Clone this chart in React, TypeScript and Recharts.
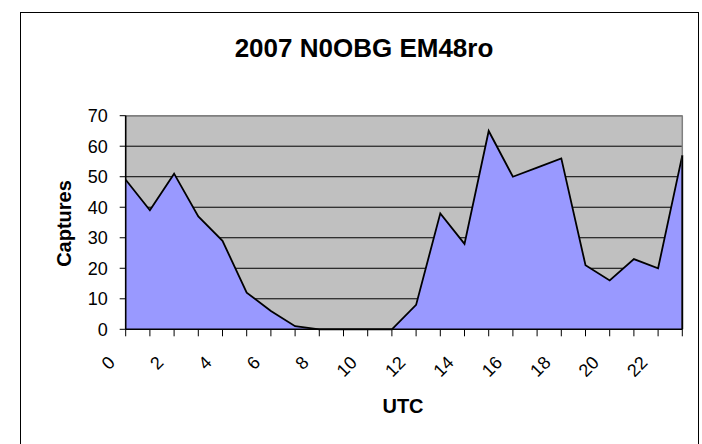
import React from 'react';
import { AreaChart, Area, XAxis, YAxis, CartesianGrid, ReferenceLine } from 'recharts';

// hour of day (UTC) and captures per hour
const hours = [0, 1, 2, 3, 4, 5, 6, 7, 8, 9, 10, 11, 12, 13, 14, 15, 16, 17, 18, 19, 20, 21, 22, 23];
const captures = [49, 39, 51, 37, 29, 12, 6, 1, 0, 0, 0, 0, 8, 38, 28, 65, 50, 53, 56, 21, 16, 23, 20, 57];
const yTicks = [0, 10, 20, 30, 40, 50, 60, 70];

const data = hours.map((h, i) => ({ hour: h, captures: captures[i] }));

const FONT = '"Liberation Sans", Arial, sans-serif';

const HourTick = (props: any) => {
  const { x, y, payload } = props;
  if (payload.value % 2 !== 0) return <g />;
  const ex = x - 14;
  const ey = y + 23;
  return (
    <text
      x={ex}
      y={ey}
      dy="0.35em"
      textAnchor="end"
      transform={`rotate(-45 ${ex} ${ey})`}
      fontSize={18}
      fontFamily={FONT}
      fill="#000"
    >
      {payload.value}
    </text>
  );
};

export default function App() {
  const last = hours[hours.length - 1];
  const lastVal = captures[captures.length - 1];
  return (
    <div style={{ position: 'absolute', left: 0, top: 0, width: 702, height: 444, background: '#fff', overflow: 'hidden' }}>
      <div style={{ position: 'absolute', left: 20, top: 12, width: 677, height: 450, border: '1px solid #000' }} />
      <AreaChart
        width={702}
        height={444}
        data={data}
        margin={{ top: 115.7, right: 19.7, bottom: 54.7, left: 65.7 }}
        style={{ position: 'absolute', left: 0, top: 0 }}
      >
        <CartesianGrid vertical={false} stroke="#000" strokeWidth={1} fill="#C0C0C0" fillOpacity={1} />
        <XAxis
          dataKey="hour"
          interval={0}
          height={60}
          tickSize={7}
          tickMargin={0}
          tick={<HourTick />}
          axisLine={{ stroke: '#000', strokeWidth: 1.6 }}
          tickLine={{ stroke: '#000', strokeWidth: 1 }}
        />
        <YAxis
          width={60}
          domain={[0, 70]}
          ticks={yTicks}
          interval={0}
          tickSize={6}
          tickMargin={12}
          tick={{ fontSize: 18, fontFamily: FONT, fill: '#000' }}
          axisLine={{ stroke: '#000', strokeWidth: 1.6 }}
          tickLine={{ stroke: '#000', strokeWidth: 1 }}
        />
        <ReferenceLine y={70} stroke="#808080" strokeWidth={1.5} />
        <ReferenceLine x={last} stroke="#808080" strokeWidth={1.5} />
        <Area
          type="linear"
          dataKey="captures"
          stroke="#000"
          strokeWidth={1.8}
          fill="#9999FF"
          fillOpacity={1}
          isAnimationActive={false}
          dot={false}
          activeDot={false}
        />
        <ReferenceLine
          segment={[{ x: last, y: lastVal }, { x: last, y: 0 }]}
          stroke="#000"
          strokeWidth={1.8}
        />
      </AreaChart>
      <svg width={702} height={444} style={{ position: 'absolute', left: 0, top: 0, pointerEvents: 'none' }}>
        <text x={364} y={57} textAnchor="middle" fontSize={26} fontWeight="bold" fontFamily={FONT} fill="#000">
          2007 N0OBG EM48ro
        </text>
        <text x={403} y={413} textAnchor="middle" fontSize={20} fontWeight="bold" fontFamily={FONT} fill="#000">
          UTC
        </text>
        <text
          x={70.5}
          y={223.5}
          textAnchor="middle"
          transform="rotate(-90 70.5 223.5)"
          fontSize={20}
          fontWeight="bold"
          fontFamily={FONT}
          fill="#000"
        >
          Captures
        </text>
      </svg>
    </div>
  );
}
